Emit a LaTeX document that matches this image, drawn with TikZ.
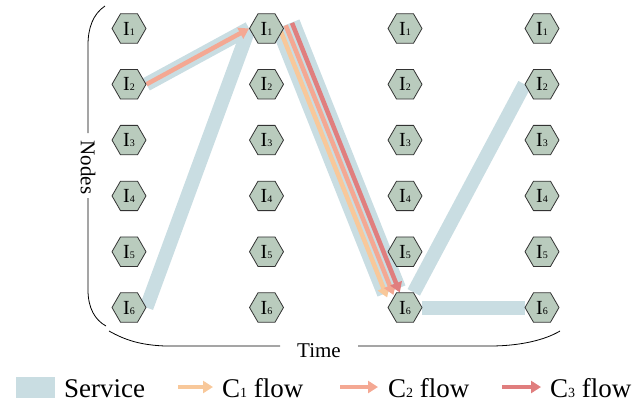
\documentclass[tikz,border=0pt]{standalone}
\usepackage{fontspec}
\setmainfont{Liberation Serif}
\usetikzlibrary{shapes.geometric,arrows.meta}
\pgfdeclarelayer{background}
\pgfsetlayers{background,main}
\definecolor{servicecol}{HTML}{C9DDE2}
\definecolor{cone}{HTML}{F8C89A}
\definecolor{ctwo}{HTML}{F4A893}
\definecolor{cthree}{HTML}{E07E7E}
\definecolor{hexfill}{HTML}{B9CBBD}
\definecolor{hexline}{HTML}{333333}
\newcommand\hexlbl[1]{I{\fontsize{10}{10}\selectfont#1}}
\newcommand\flowlbl[1]{C{\fontsize{14}{14}\selectfont#1} flow}

\begin{document}
\begin{tikzpicture}[x=1pt,y=-1pt,
  hex/.style={regular polygon, regular polygon sides=6, minimum size=34pt,
    inner sep=0pt, fill=hexfill, draw=hexline, line width=0.8pt,
    font=\fontsize{20}{20}\selectfont},
  service/.style={draw=servicecol, line width=14pt},
  wideservice/.style={draw=servicecol, line width=30pt},
  flow/.style={line width=4.5pt, -{Triangle[length=10pt,width=12pt]}},
  brace/.style={draw=black, line width=0.8pt},
  axislbl/.style={font=\fontsize{21}{21}\selectfont, inner sep=0pt},
  legendlbl/.style={font=\fontsize{27}{27}\selectfont, inner sep=0pt, anchor=base west}]
\useasboundingbox (0,0) rectangle (632,402);

% grid of hexagonal nodes: columns are time steps, rows are nodes
\foreach \c/\x in {0/129,1/266.5,2/405,3/542}
  \foreach \r in {1,...,6}
    \node[hex] (c\c r\r) at (\x,{28.5+55.8*(\r-1)}) {\hexlbl{\r}};

\begin{pgfonlayer}{background}
  % service paths
  \draw[service] (c0r6.east) -- (c1r1.west);
  \draw[service] (c0r2.east) -- (c1r1.west);
  \draw[wideservice] ([shift={(19,-3.5)}]c1r1.center) -- ([shift={(-13.5,-16.5)}]c2r6.center);
  \draw[service] (c2r6.60) -- (c3r2.west);
  \draw[service] (c2r6.east) -- (c3r6.west);
  % flows
  \draw[flow, ctwo] (c0r2.east) -- (c1r1.west);
  \draw[flow, cone] ([shift={(12.9,-0.6)}]c1r1.center) -- ([shift={(-17.8,-10)}]c2r6.center);
  \draw[flow, ctwo] ([shift={(19.2,-3.1)}]c1r1.center) -- ([shift={(-11.5,-12.5)}]c2r6.center);
  \draw[flow, cthree] ([shift={(25.5,-5.6)}]c1r1.center) -- ([shift={(-5.2,-15)}]c2r6.center);
\end{pgfonlayer}

% axis brackets
\node[axislbl, rotate=-90] (nodeslbl) at (88,167.5) {Nodes};
\node[axislbl, anchor=base] (timelbl) at (319,357) {Time};
\draw[brace] (105,6) .. controls (93,14) and (88,28) .. (88,45) -- (88,133);
\draw[brace] (88,198) -- (88,290) .. controls (88,308) and (95,320) .. (106,326);
\draw[brace] (109,331) .. controls (125,340) and (140,345) .. (165,346) -- (280,346);
\draw[brace] (358,346) -- (490,346) .. controls (520,346) and (545,340) .. (560,331);

% legend
\node[fill=servicecol, minimum width=39pt, minimum height=21pt, inner sep=0pt] (lgsw) at (35.5,387.5) {};
\node[legendlbl] (lgs) at (64,397) {Service};
\coordinate (a1s) at (178,387); \coordinate (a1e) at (213,387);
\coordinate (a2s) at (340,387); \coordinate (a2e) at (378,387);
\coordinate (a3s) at (502,387); \coordinate (a3e) at (541,387);
\draw[flow, cone] (a1s) -- (a1e);
\draw[flow, ctwo] (a2s) -- (a2e);
\draw[flow, cthree] (a3s) -- (a3e);
\node[legendlbl] (lg1) at (222,397) {\flowlbl{1}};
\node[legendlbl] (lg2) at (388,397) {\flowlbl{2}};
\node[legendlbl] (lg3) at (550,397) {\flowlbl{3}};
\end{tikzpicture}
\end{document}
